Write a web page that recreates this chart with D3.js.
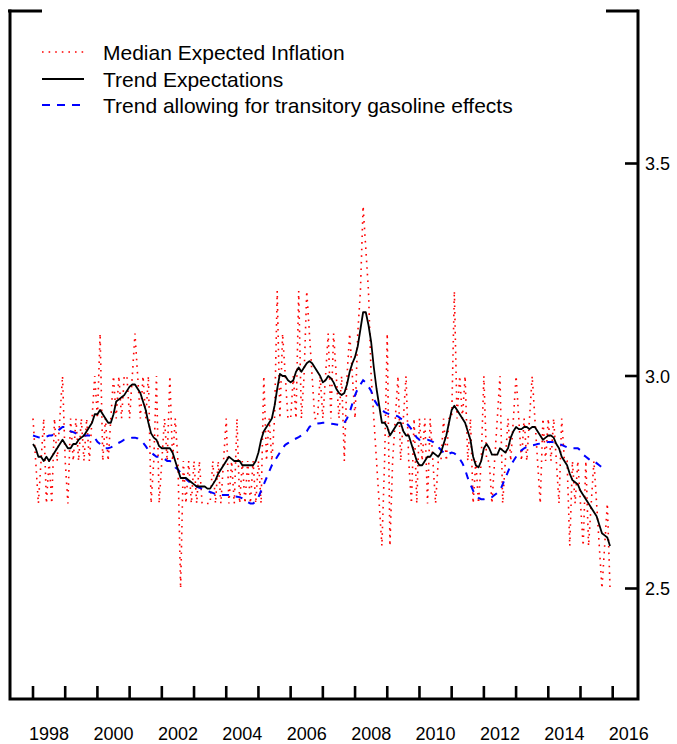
<!DOCTYPE html>
<html><head><meta charset="utf-8">
<script src="https://cdn.jsdelivr.net/npm/d3@7"></script>
<style>
body{margin:0;background:#fff}
svg{display:block}
text{font-family:"Liberation Sans",Arial,Helvetica,sans-serif;fill:#000}
</style>
</head><body><svg id="chart" width="677" height="744"></svg>
<script>
// Monthly series, starting January 1998
const startYear = 1998;

const medianExpected = [
  2.9, 2.8, 2.7, 2.8, 2.9, 2.7, 2.8, 2.7, 2.9, 2.8, 2.9, 3.0, // 1998
  2.8, 2.7, 2.9, 2.8, 2.9, 2.8, 2.9, 2.8, 2.9, 2.8, 2.9, 3.0, // 1999
  2.9, 3.1, 2.8, 2.9, 2.8, 2.9, 3.0, 2.9, 3.0, 2.9, 3.0, 3.0, // 2000
  2.9, 3.0, 3.1, 3.0, 2.9, 3.0, 2.9, 3.0, 2.7, 2.8, 3.0, 2.7, // 2001
  2.8, 2.9, 2.8, 3.0, 2.8, 2.9, 2.8, 2.5, 2.8, 2.7, 2.8, 2.7, // 2002
  2.8, 2.7, 2.8, 2.7, 2.7, 2.7, 2.7, 2.8, 2.7, 2.8, 2.7, 2.8, // 2003
  2.9, 2.7, 2.8, 2.7, 2.9, 2.7, 2.8, 2.7, 2.8, 2.7, 2.8, 2.7, // 2004
  2.8, 2.7, 3.0, 2.8, 2.9, 2.8, 2.9, 3.2, 2.9, 3.1, 3.0, 2.9, // 2005
  2.9, 3.0, 2.9, 3.2, 2.9, 3.0, 3.2, 3.1, 3.0, 2.9, 2.9, 3.0, // 2006
  2.9, 3.0, 3.1, 2.9, 3.1, 3.0, 2.9, 3.0, 2.8, 3.0, 3.1, 3.0, // 2007
  2.9, 3.1, 3.2, 3.4, 3.3, 3.2, 3.0, 2.9, 2.8, 2.7, 2.6, 2.8, // 2008
  3.1, 2.6, 2.8, 2.9, 3.0, 2.8, 2.9, 3.0, 2.8, 2.7, 2.9, 2.7, // 2009
  2.9, 2.8, 2.9, 2.7, 2.9, 2.8, 2.7, 2.8, 2.8, 2.9, 2.8, 2.9, // 2010
  2.9, 3.2, 2.9, 3.0, 2.9, 3.0, 2.8, 2.9, 2.7, 2.8, 2.7, 2.8, // 2011
  3.0, 2.8, 2.8, 2.7, 2.8, 2.9, 3.0, 2.7, 2.8, 2.9, 2.8, 2.9, // 2012
  3.0, 2.9, 2.8, 2.9, 2.8, 2.9, 3.0, 2.9, 2.8, 2.7, 2.9, 2.8, // 2013
  2.9, 2.8, 2.9, 2.8, 2.7, 2.9, 2.8, 2.8, 2.6, 2.8, 2.7, 2.8, // 2014
  2.7, 2.6, 2.8, 2.6, 2.7, 2.8, 2.7, 2.6, 2.5, 2.6, 2.7, 2.5  // 2015
];

const trendExpectations = [
  2.84, 2.83, 2.81, 2.81, 2.80, 2.81, 2.80, 2.81, 2.82, 2.83, 2.84, 2.85, // 1998
  2.84, 2.83, 2.83, 2.84, 2.84, 2.85, 2.855, 2.86, 2.87, 2.88, 2.89, 2.91, // 1999
  2.91, 2.92, 2.91, 2.90, 2.89, 2.89, 2.91, 2.94, 2.945, 2.95, 2.955, 2.965, // 2000
  2.975, 2.98, 2.98, 2.97, 2.96, 2.94, 2.92, 2.89, 2.865, 2.855, 2.85, 2.835, // 2001
  2.83, 2.83, 2.83, 2.83, 2.82, 2.80, 2.78, 2.76, 2.76, 2.76, 2.755, 2.75, // 2002
  2.745, 2.74, 2.74, 2.74, 2.74, 2.735, 2.735, 2.745, 2.755, 2.77, 2.78, 2.79, // 2003
  2.80, 2.81, 2.805, 2.80, 2.80, 2.80, 2.79, 2.79, 2.79, 2.79, 2.79, 2.80, // 2004
  2.82, 2.85, 2.87, 2.88, 2.89, 2.90, 2.93, 2.97, 3.005, 3.00, 3.00, 2.99, // 2005
  2.985, 2.99, 3.01, 3.02, 3.01, 3.02, 3.03, 3.035, 3.03, 3.02, 3.01, 3.00, // 2006
  2.985, 2.99, 3.0, 2.995, 2.985, 2.97, 2.96, 2.955, 2.96, 2.98, 3.01, 3.03, // 2007
  3.045, 3.07, 3.11, 3.15, 3.15, 3.12, 3.08, 3.02, 2.97, 2.93, 2.89, 2.89, // 2008
  2.88, 2.86, 2.87, 2.88, 2.89, 2.89, 2.87, 2.86, 2.86, 2.84, 2.82, 2.80, // 2009
  2.79, 2.79, 2.80, 2.81, 2.81, 2.82, 2.815, 2.81, 2.82, 2.84, 2.86, 2.89, // 2010
  2.92, 2.93, 2.92, 2.91, 2.90, 2.89, 2.87, 2.85, 2.81, 2.79, 2.785, 2.80, // 2011
  2.83, 2.84, 2.83, 2.815, 2.815, 2.815, 2.83, 2.825, 2.82, 2.83, 2.855, 2.87, // 2012
  2.88, 2.875, 2.875, 2.88, 2.88, 2.875, 2.88, 2.88, 2.87, 2.86, 2.85, 2.855, // 2013
  2.86, 2.86, 2.855, 2.84, 2.83, 2.81, 2.80, 2.79, 2.77, 2.755, 2.75, 2.745, // 2014
  2.73, 2.72, 2.71, 2.70, 2.69, 2.68, 2.67, 2.65, 2.63, 2.625, 2.62, 2.60  // 2015
];

const trendGasoline = [
  2.86, 2.858, 2.856, 2.855, 2.855, 2.857, 2.86, 2.86, 2.865, 2.87, 2.875, 2.88, // 1998
  2.88, 2.875, 2.87, 2.868, 2.865, 2.862, 2.86, 2.86, 2.86, 2.86, 2.86, 2.855, // 1999
  2.845, 2.84, 2.835, 2.83, 2.83, 2.832, 2.835, 2.84, 2.843, 2.846, 2.85, 2.852, // 2000
  2.853, 2.855, 2.855, 2.853, 2.848, 2.843, 2.835, 2.825, 2.82, 2.815, 2.81, 2.81, // 2001
  2.807, 2.805, 2.80, 2.80, 2.795, 2.785, 2.78, 2.772, 2.765, 2.758, 2.752, 2.748, // 2002
  2.744, 2.74, 2.737, 2.735, 2.733, 2.73, 2.727, 2.725, 2.722, 2.72, 2.72, 2.72, // 2003
  2.72, 2.72, 2.718, 2.717, 2.716, 2.715, 2.712, 2.708, 2.703, 2.70, 2.70, 2.705, // 2004
  2.715, 2.73, 2.745, 2.76, 2.775, 2.79, 2.80, 2.81, 2.82, 2.83, 2.838, 2.842, // 2005
  2.846, 2.85, 2.853, 2.856, 2.86, 2.865, 2.87, 2.88, 2.885, 2.887, 2.888, 2.889, // 2006
  2.89, 2.89, 2.889, 2.888, 2.887, 2.886, 2.885, 2.885, 2.89, 2.90, 2.915, 2.935, // 2007
  2.955, 2.97, 2.98, 2.99, 2.985, 2.975, 2.965, 2.945, 2.935, 2.925, 2.92, 2.915, // 2008
  2.912, 2.91, 2.908, 2.907, 2.905, 2.90, 2.895, 2.89, 2.883, 2.875, 2.865, 2.855, // 2009
  2.85, 2.85, 2.85, 2.85, 2.848, 2.845, 2.84, 2.833, 2.826, 2.82, 2.815, 2.817, // 2010
  2.82, 2.818, 2.813, 2.805, 2.795, 2.78, 2.76, 2.745, 2.73, 2.72, 2.713, 2.71, // 2011
  2.71, 2.712, 2.713, 2.715, 2.72, 2.725, 2.73, 2.745, 2.76, 2.775, 2.79, 2.80, // 2012
  2.81, 2.82, 2.825, 2.83, 2.833, 2.835, 2.837, 2.838, 2.84, 2.841, 2.842, 2.843, // 2013
  2.845, 2.845, 2.844, 2.843, 2.84, 2.838, 2.835, 2.832, 2.83, 2.83, 2.83, 2.83, // 2014
  2.825, 2.815, 2.81, 2.805, 2.80, 2.80, 2.795, 2.79, 2.785, 2.78              // 2015
];

const yearTicks = d3.range(1998, 2017);
const yearLabels = ["1998","2000","2002","2004","2006","2008","2010","2012","2014","2016"];
const valueTicks = [2.5, 3.0, 3.5];
const valueTickLabels = ["2.5", "3.0", "3.5"];
const legendLabels = ["Median Expected Inflation", "Trend Expectations", "Trend allowing for transitory gasoline effects"];

// ---- layout ----
const frame = {left: 10, right: 638, top: 11, bottom: 699};
const x = d3.scaleLinear().domain([1998, 2016]).range([33, 612.7]);
const y = d3.scaleLinear().domain([2.5, 3.5]).range([588.5, 163.5]);

const svg = d3.select("#chart");
const toPts = arr => arr.map((v, i) => [startYear + i / 12, v]);
const line = d3.line().x(d => x(d[0])).y(d => y(d[1]));

// series
svg.append("path").attr("d", line(toPts(medianExpected)))
  .attr("fill", "none").attr("stroke", "#ff0000").attr("stroke-width", 1.6)
  .attr("stroke-dasharray", "1.6,5");
svg.append("path").attr("d", line(toPts(trendGasoline)))
  .attr("fill", "none").attr("stroke", "#0000ff").attr("stroke-width", 2)
  .attr("stroke-dasharray", "7,7");
svg.append("path").attr("d", line(toPts(trendExpectations)))
  .attr("fill", "none").attr("stroke", "#000").attr("stroke-width", 1.8)
  .attr("stroke-linejoin", "round");

// frame
const fr = svg.append("g").attr("stroke", "#000").attr("stroke-width", 3).attr("fill", "none");
fr.append("path").attr("d", `M${frame.left},${frame.top}V${frame.bottom}H${frame.right}V${frame.top}`)
  .attr("stroke-linejoin", "miter").attr("stroke-linecap", "square");
fr.append("line").attr("x1", 8).attr("x2", 42).attr("y1", frame.top).attr("y2", frame.top);
fr.append("line").attr("x1", 606).attr("x2", frame.right).attr("y1", frame.top).attr("y2", frame.top);

// bottom ticks (inward) and labels
svg.append("g").selectAll("line").data(yearTicks).join("line")
  .attr("x1", d => x(d)).attr("x2", d => x(d))
  .attr("y1", frame.bottom).attr("y2", frame.bottom - 13)
  .attr("stroke", "#000").attr("stroke-width", 2.6);
svg.append("g").selectAll("text").data(yearLabels).join("text")
  .attr("x", d => x(+d + 0.5)).attr("y", 740)
  .attr("text-anchor", "middle").attr("font-size", 18).text(d => d);

// right axis ticks and labels
svg.append("g").selectAll("line").data(valueTicks).join("line")
  .attr("x1", frame.right).attr("x2", frame.right - 13)
  .attr("y1", d => y(d)).attr("y2", d => y(d))
  .attr("stroke", "#000").attr("stroke-width", 2.6);
svg.append("g").selectAll("text").data(valueTicks).join("text")
  .attr("x", 645).attr("y", d => y(d) + 6.5)
  .attr("font-size", 18).text((d, i) => valueTickLabels[i]);

// legend
const legY = [52, 79, 105];
const legStyles = [
  {stroke: "#ff0000", w: 1.6, dash: "1.6,5"},
  {stroke: "#000", w: 1.8, dash: null},
  {stroke: "#0000ff", w: 2, dash: "8,7"}
];
const leg = svg.append("g");
legendLabels.forEach((lab, i) => {
  leg.append("line").attr("x1", 42).attr("x2", 84).attr("y1", legY[i]).attr("y2", legY[i])
    .attr("stroke", legStyles[i].stroke).attr("stroke-width", legStyles[i].w)
    .attr("stroke-dasharray", legStyles[i].dash);
  leg.append("text").attr("x", 103).attr("y", legY[i] + 7.5)
    .attr("font-size", 21).text(lab);
});
</script>
</body></html>
